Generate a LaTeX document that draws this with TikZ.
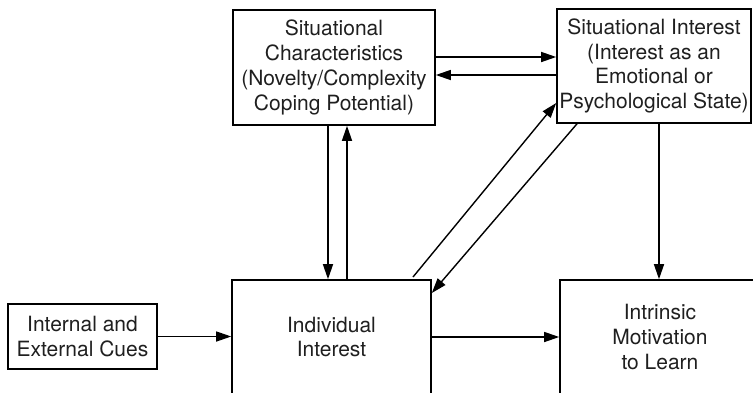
\documentclass[tikz,border=0pt]{standalone}
\usepackage{fontspec}
\setmainfont{TeX Gyre Heros}
\usetikzlibrary{arrows.meta}
\tikzset{
  box/.style={draw, line width=1.6pt, align=center, inner sep=0pt,
    font=\fontsize{21}{24.8}\selectfont, text=black!88},
  arr/.style={line width=1.4pt, -{Triangle[length=15pt,width=10pt]}},
}
\begin{document}
\begin{tikzpicture}[x=1pt,y=-1pt]
\useasboundingbox (0,0) rectangle (753,392);
% boxes
\node[box, minimum width=202pt, minimum height=115pt] (sc) at (334,67.5)
  {Situational\\Characteristics\\(Novelty/Complexity\\Coping Potential)};
\node[box, minimum width=194pt, minimum height=114pt] (si) at (654,66)
  {Situational Interest\\(Interest as an\\Emotional or\\Psychological State)};
\node[box, minimum width=149pt, minimum height=65pt] (cues) at (82.5,336.5)
  {Internal and\\External Cues};
\node[box, minimum width=199pt, minimum height=114pt] (ii) at (331.5,337)
  {Individual\\Interest};
\node[box, minimum width=200pt, minimum height=114pt] (im) at (660,337)
  {Intrinsic\\Motivation\\to Learn};
% connectors
\draw[arr] (sc.east |- 0,57) -- (si.west |- 0,57);
\draw[arr] (si.west |- 0,75) -- (sc.east |- 0,75);
\draw[arr] (sc.south -| 328,0) -- (ii.north -| 328,0);
\draw[arr] (ii.north -| 347,0) -- (sc.south -| 347,0);
\coordinate (d1) at (413,277);
\draw[arr] (d1) -- (si.west |- 0,103);
\draw[arr] (si.south -| 577,0) -- (ii.east |- 0,293);
\draw[arr] (si.south -| 659,0) -- (im.north -| 659,0);
\draw[arr] (ii.east |- 0,337) -- (im.west |- 0,337);
\draw[arr] (cues.east) -- (ii.west |- cues.east);
\end{tikzpicture}
\end{document}
